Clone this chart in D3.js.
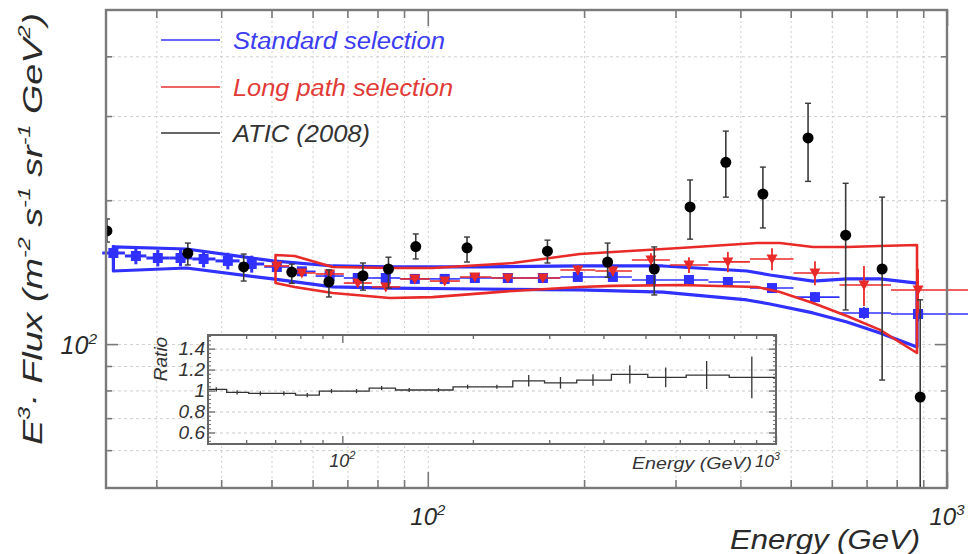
<!DOCTYPE html>
<html><head><meta charset="utf-8">
<script src="https://cdn.jsdelivr.net/npm/d3@7"></script>
<style>
body{margin:0;background:#fff}
svg{display:block}
text{font-family:"Liberation Sans",Arial,Helvetica,sans-serif;font-style:italic}
</style>
</head><body>
<svg id="c" width="968" height="554"></svg>
<script>
// ---------------- DATA ----------------
// shared energy bins (GeV)
const binCenters = [24.8, 27.4, 30.2, 33.4, 37.0, 41.2, 45.8, 51.2, 57.2, 64.7, 73.3, 83.0, 94.4, 107.8, 123.2, 142.6, 166.6, 194.5, 227.2, 269.0, 318.4, 378.4, 460.2, 556.8, 692.0, 879.5];
const binEdges = [23.6, 26.1, 28.7, 31.8, 35.2, 39.0, 43.4, 48.4, 54.1, 60.8, 68.9, 78.0, 88.5, 100.9, 115.3, 132.6, 154.1, 180.0, 210.3, 247.2, 292.6, 347.1, 417.3, 506.2, 620.8, 780.1, 1100];
// Standard selection (blue)
const stdFlux = [155.1, 152.9, 151.4, 151.4, 150.7, 149.3, 147.1, 145.0, 142.0, 138.8, 137.5, 137.5, 136.9, 136.9, 137.5, 137.5, 137.5, 138.2, 138.2, 136.2, 136.2, 134.9, 131.0, 125.4, 116.2, 115.6];
const stdErr  = [6.0, 6.0, 6.0, 6.0, 6.0, 6.0, 6.0, 1.5, 1.5, 1.5, 1.5, 1.5, 1.5, 1.5, 1.5, 1.5, 1.5, 1.5, 1.6, 1.8, 2.0, 2.2, 2.5, 3.0, 3.4, 3.9];
// Long path selection (red), first 7 bins empty
const longFlux = [null, null, null, null, null, null, null, 145.7, 140.9, 140.2, 134.2, 131.7, 136.9, 135.5, 138.2, 137.5, 137.5, 142.9, 142.2, 149.9, 146.4, 148.6, 150.7, 140.9, 132.9, 129.8];
const longErr  = [null, null, null, null, null, null, null, 2.1, 2.0, 2.0, 1.9, 1.9, 2.0, 2.0, 2.0, 2.6, 2.6, 3.4, 3.4, 5.1, 5.6, 7.2, 8.0, 8.1, 12.8, 13.8];
// systematic bands
const stdBandE  = [24.8, 34.3, 50.3, 65.6, 84.5, 125.9, 196.3, 283.7, 411.8, 456.0, 551.9, 641.8, 742.9, 875.5];
const stdBandHi = [159.7, 158.1, 149.3, 145.7, 145.0, 145.0, 145.7, 145.7, 142.2, 139.5, 135.5, 136.9, 136.9, 134.2];
const stdBandLo = [142.2, 144.3, 136.9, 131.7, 131.0, 130.4, 129.8, 128.5, 123.7, 121.3, 116.2, 111.2, 105.5, 98.6];
const longBandE  = [50.9, 55.4, 65.6, 84.5, 102.2, 145.8, 196.3, 227.2, 305.9, 430.5, 476.7, 551.9, 641.8, 742.9, 875.5];
const longBandHi = [153.6, 152.9, 145.0, 144.3, 144.3, 147.8, 154.3, 155.8, 158.9, 162.7, 162.7, 159.7, 159.7, 160.4, 161.2];
const longBandLo = [134.2, 131.7, 127.9, 124.9, 125.4, 129.2, 131.7, 132.4, 132.9, 131.7, 128.5, 121.9, 114.5, 107.1, 95.8];
// ATIC (2008)
const aticE    = [24.1, 34.5, 44.2, 54.7, 64.5, 75.0, 84.0, 94.8, 119, 170, 222, 273, 320, 375, 442, 540, 638, 750, 888];
const aticFlux = [172.5, 155, 145, 141.5, 135, 139, 143.6, 160, 159, 156.5, 148.5, 143.6, 193.6, 240, 206, 270, 169, 143.6, 77.5];
const aticHi   = [182.7, 162.7, 154.3, 147, 143, 147.8, 152, 170, 167.5, 165, 162.7, 159.7, 220.5, 279, 234.6, 319, 217, 203, 123.8];
const aticLo   = [163.5, 146.4, 135.5, 134, 125.5, 129.7, 131, 150.7, 148.5, 147.8, 138, 126.7, 165.8, 203, 175, 219, 117.9, 84.1, 45];
// ratio (long path / standard), bins 7..25
const ratioVals = [1.011, 0.983, 0.973, 0.973, 0.957, 0.995, 0.995, 1.024, 1.005, 1.005, 1.036, 1.036, 1.093, 1.074, 1.10, 1.154, 1.126, 1.148, 1.126];
const ratioErr  = [0.01, 0.01, 0.01, 0.01, 0.01, 0.01, 0.01, 0.015, 0.015, 0.015, 0.02, 0.02, 0.055, 0.055, 0.055, 0.087, 0.095, 0.133, 0.20];
// axis ticks
const xMinorTicks = [30, 40, 50, 60, 70, 80, 90, 200, 300, 400, 500, 600, 700, 800, 900];
const xMajorTicks = [100, 1000];
const yMinorTicks = [60, 70, 80, 90, 200, 300, 400];
const yMajorTicks = [100];
const insetXMinor = [60, 70, 80, 90, 200, 300, 400, 500, 600, 700, 800, 900];
const insetYMajor = [0.6, 0.8, 1.0, 1.2, 1.4];
const insetYLabels = ["0.6", "0.8", "1", "1.2", "1.4"];
const legendItems = [
  {label: "Standard selection", color: "#3434ff", textColor: "#3c3cf0"},
  {label: "Long path selection", color: "#e8302c", textColor: "#e23a36"},
  {label: "ATIC (2008)", color: "#333333", textColor: "#333333"}
];

// ---------------- DRAW ----------------
const BLUE = "#3030ff", RED = "#e82a28", FRAME = "#7a7a7a";
const svg = d3.select("#c");
const X0 = 106, X1 = 947, Y0 = 10, Y1 = 488;
const x = d3.scaleLog().domain([24, 1000]).range([X0, X1]);
const y = d3.scaleLog().domain([50, 500]).range([Y1, Y0]);

svg.append("defs").append("clipPath").attr("id", "mainclip")
  .append("rect").attr("x", X0).attr("y", Y0).attr("width", X1 - X0).attr("height", Y1 - Y0);

function rich(sel, parts, fs) {
  let prevSup = false;
  parts.forEach(([t, s]) => {
    const ts = sel.append("tspan").text(t);
    if (s) { ts.attr("font-size", fs * 0.62); if (!prevSup) ts.attr("dy", -fs * 0.42); }
    else { if (prevSup) ts.attr("dy", fs * 0.42); }
    prevSup = s;
  });
}
function styleAxis(g, color, width, dash) {
  g.select(".domain").remove();
  g.selectAll(".tick line").attr("stroke", color).attr("stroke-width", width).attr("stroke-dasharray", dash || null);
  g.selectAll(".tick text").remove();
}

// grid
const gridX = xMinorTicks.concat([100]);
const gridY = yMinorTicks.concat([100]);
svg.append("g").attr("transform", `translate(0,${Y1})`)
  .call(d3.axisBottom(x).tickValues(gridX).tickSize(-(Y1 - Y0)).tickFormat(""))
  .call(g => styleAxis(g, "#cfcfcf", 1, "2,3"));
svg.append("g").attr("transform", `translate(${X0},0)`)
  .call(d3.axisLeft(y).tickValues(gridY).tickSize(-(X1 - X0)).tickFormat(""))
  .call(g => styleAxis(g, "#cfcfcf", 1, "3,3"));

// bands
function band(E, hi, lo, color, w) {
  const pts = E.map((e, i) => [x(e), y(hi[i])]).concat(E.map((e, i) => [x(e), y(lo[i])]).reverse());
  svg.append("path").attr("d", d3.line()(pts) + "Z")
    .attr("fill", "none").attr("stroke", color).attr("stroke-width", w).attr("stroke-linejoin", "round");
}
band(stdBandE, stdBandHi, stdBandLo, BLUE, 3.2);

// data points
function points(flux, err, color, shape) {
  const g = svg.append("g");
  flux.forEach((f, i) => {
    if (f == null) return;
    const cx = x(binCenters[i]), cy = y(f);
    const heavy = shape === "square" && i < 7;
    g.append("line").attr("x1", x(binEdges[i])).attr("x2", x(binEdges[i + 1])).attr("y1", cy).attr("y2", cy)
      .attr("stroke", color).attr("stroke-width", heavy ? 3 : 1.6);
    g.append("line").attr("x1", cx).attr("x2", cx).attr("y1", y(f - err[i])).attr("y2", y(f + err[i]))
      .attr("stroke", color).attr("stroke-width", heavy ? 3 : 1.8);
    if (shape === "square") {
      g.append("rect").attr("x", cx - 5).attr("y", cy - 5).attr("width", 10).attr("height", 10).attr("fill", color);
    } else {
      g.append("path").attr("d", `M${cx - 5.5},${cy - 4.5}L${cx + 5.5},${cy - 4.5}L${cx},${cy + 5.5}Z`).attr("fill", color);
    }
  });
}
points(stdFlux, stdErr, BLUE, "square");
band(longBandE, longBandHi, longBandLo, RED, 2.6);
points(longFlux, longErr, RED, "triangle");

// ATIC
const ag = svg.append("g").attr("clip-path", "url(#mainclip)");
aticE.forEach((e, i) => {
  const cx = x(e);
  ag.append("line").attr("x1", cx).attr("x2", cx).attr("y1", y(aticLo[i])).attr("y2", y(aticHi[i]))
    .attr("stroke", "#3a3a3a").attr("stroke-width", 1.6);
  [aticLo[i], aticHi[i]].forEach(v => ag.append("line").attr("x1", cx - 3).attr("x2", cx + 3)
    .attr("y1", y(v)).attr("y2", y(v)).attr("stroke", "#3a3a3a").attr("stroke-width", 1.4));
  ag.append("circle").attr("cx", cx).attr("cy", y(aticFlux[i])).attr("r", 5.5).attr("fill", "#000");
});

// frame & ticks
svg.append("rect").attr("x", X0).attr("y", Y0).attr("width", X1 - X0).attr("height", Y1 - Y0)
  .attr("fill", "none").attr("stroke", FRAME).attr("stroke-width", 2.4);
[[d3.axisBottom, Y1], [d3.axisTop, Y0]].forEach(([ax, pos]) => {
  svg.append("g").attr("transform", `translate(0,${pos})`)
    .call(ax(x).tickValues(xMinorTicks).tickSize(-8).tickFormat("")).call(g => styleAxis(g, FRAME, 1.6));
  svg.append("g").attr("transform", `translate(0,${pos})`)
    .call(ax(x).tickValues(xMajorTicks).tickSize(-16).tickFormat("")).call(g => styleAxis(g, FRAME, 1.6));
});
[[d3.axisLeft, X0], [d3.axisRight, X1]].forEach(([ax, pos]) => {
  svg.append("g").attr("transform", `translate(${pos},0)`)
    .call(ax(y).tickValues(yMinorTicks).tickSize(-6).tickFormat("")).call(g => styleAxis(g, FRAME, 1.6));
  svg.append("g").attr("transform", `translate(${pos},0)`)
    .call(ax(y).tickValues(yMajorTicks).tickSize(-12).tickFormat("")).call(g => styleAxis(g, FRAME, 1.6));
});

// axis labels
const LBL = "#2a2a2a";
xMajorTicks.forEach((v, i) => {
  const t = svg.append("text").attr("x", x(v)).attr("y", 525).attr("text-anchor", "middle")
    .attr("font-size", 24).attr("fill", LBL);
  rich(t, [["10", false], [String(2 + i), true]], 24);
});
yMajorTicks.forEach(v => {
  const t = svg.append("text").attr("x", 97).attr("y", y(v) + 10).attr("text-anchor", "end")
    .attr("font-size", 25).attr("fill", LBL);
  rich(t, [["10", false], ["2", true]], 25);
});
svg.append("text").attr("x", 730).attr("y", 549).attr("font-size", 28).attr("fill", LBL)
  .attr("textLength", 190).attr("lengthAdjust", "spacingAndGlyphs").text("Energy (GeV)");
const ytG = svg.append("g").attr("transform", "translate(42,229) rotate(-90)");
const yt = ytG.append("text").attr("text-anchor", "middle").attr("font-size", 28).attr("fill", LBL);
rich(yt, [["E", false], ["3", true], ["· Flux (m", false], ["-2", true], [" s", false], ["-1", true],
  [" sr", false], ["-1", true], [" GeV", false], ["2", true], [")", false]], 28);
{
  const w = yt.node().getBBox().width;
  const target = 432;
  if (w > 0) yt.attr("transform", `scale(${target / w},1)`);
}

// legend
const legY = [40, 87, 133];
const legLen = [212, 220, 137];
legendItems.forEach((d, i) => {
  svg.append("line").attr("x1", 161).attr("x2", 220).attr("y1", legY[i]).attr("y2", legY[i])
    .attr("stroke", d.color).attr("stroke-width", 1.6);
  svg.append("text").attr("x", 233).attr("y", legY[i] + 9).attr("font-size", 23).attr("fill", d.textColor)
    .attr("textLength", legLen[i]).attr("lengthAdjust", "spacingAndGlyphs").text(d.label);
});

// ---------------- INSET ----------------
const IX0 = 208, IX1 = 776, IY0 = 335, IY1 = 444;
const xi = d3.scaleLog().domain([49, 1000]).range([IX0, IX1]);
const yi = d3.scaleLinear().domain([0.49, 1.53]).range([IY1, IY0]);
svg.select("defs").append("clipPath").attr("id", "insetclip")
  .append("rect").attr("x", IX0).attr("y", IY0).attr("width", IX1 - IX0).attr("height", IY1 - IY0);
svg.append("rect").attr("x", IX0).attr("y", IY0).attr("width", IX1 - IX0).attr("height", IY1 - IY0).attr("fill", "#fff");
svg.append("g").attr("transform", `translate(${IX0},0)`)
  .call(d3.axisLeft(yi).tickValues(insetYMajor).tickSize(-(IX1 - IX0)).tickFormat(""))
  .call(g => styleAxis(g, "#c8c8c8", 1, "3,3"));

const ig = svg.append("g").attr("clip-path", "url(#insetclip)");
const stepPts = [];
ratioVals.forEach((r, j) => {
  const i = j + 7;
  stepPts.push([binEdges[i], r], [binEdges[i + 1], r]);
});
ig.append("path").attr("d", d3.line().x(d => xi(d[0])).y(d => yi(d[1]))(stepPts))
  .attr("fill", "none").attr("stroke", "#333").attr("stroke-width", 1.3);
ratioVals.forEach((r, j) => {
  const cx = xi(binCenters[j + 7]);
  const e = Math.max(ratioErr[j], 0.02);
  ig.append("line").attr("x1", cx).attr("x2", cx).attr("y1", yi(r - e)).attr("y2", yi(r + e))
    .attr("stroke", "#333").attr("stroke-width", 1.3);
});

svg.append("rect").attr("x", IX0).attr("y", IY0).attr("width", IX1 - IX0).attr("height", IY1 - IY0)
  .attr("fill", "none").attr("stroke", "#666").attr("stroke-width", 2);
[[d3.axisBottom, IY1], [d3.axisTop, IY0]].forEach(([ax, pos]) => {
  svg.append("g").attr("transform", `translate(0,${pos})`)
    .call(ax(xi).tickValues(insetXMinor).tickSize(-4).tickFormat("")).call(g => styleAxis(g, "#666", 1.3));
  svg.append("g").attr("transform", `translate(0,${pos})`)
    .call(ax(xi).tickValues([100, 1000]).tickSize(-8).tickFormat("")).call(g => styleAxis(g, "#666", 1.3));
});
const insetYMinor = d3.range(0.52, 1.53, 0.04).filter(v => !insetYMajor.some(m => Math.abs(m - v) < 1e-6));
[[d3.axisLeft, IX0], [d3.axisRight, IX1]].forEach(([ax, pos]) => {
  svg.append("g").attr("transform", `translate(${pos},0)`)
    .call(ax(yi).tickValues(insetYMinor).tickSize(-3).tickFormat("")).call(g => styleAxis(g, "#666", 1));
  svg.append("g").attr("transform", `translate(${pos},0)`)
    .call(ax(yi).tickValues(insetYMajor).tickSize(-7).tickFormat("")).call(g => styleAxis(g, "#666", 1.3));
});
insetYMajor.forEach((v, k) => {
  svg.append("text").attr("x", 205).attr("y", yi(v) + 6.5).attr("text-anchor", "end")
    .attr("font-size", 19).attr("fill", "#333").text(insetYLabels[k]);
});
svg.append("text").attr("transform", "translate(167,359) rotate(-90)").attr("text-anchor", "middle")
  .attr("font-size", 19).attr("fill", "#333").text("Ratio");
const il = svg.append("text").attr("x", xi(100)).attr("y", 467).attr("text-anchor", "middle")
  .attr("font-size", 18).attr("fill", "#333");
rich(il, [["10", false], ["2", true]], 18);
svg.append("text").attr("x", 632).attr("y", 469).attr("font-size", 16).attr("fill", "#333")
  .attr("textLength", 120).attr("lengthAdjust", "spacingAndGlyphs").text("Energy (GeV)");
const il3 = svg.append("text").attr("x", 755).attr("y", 467).attr("font-size", 17).attr("fill", "#333");
rich(il3, [["10", false], ["3", true]], 17);
</script>
</body></html>
